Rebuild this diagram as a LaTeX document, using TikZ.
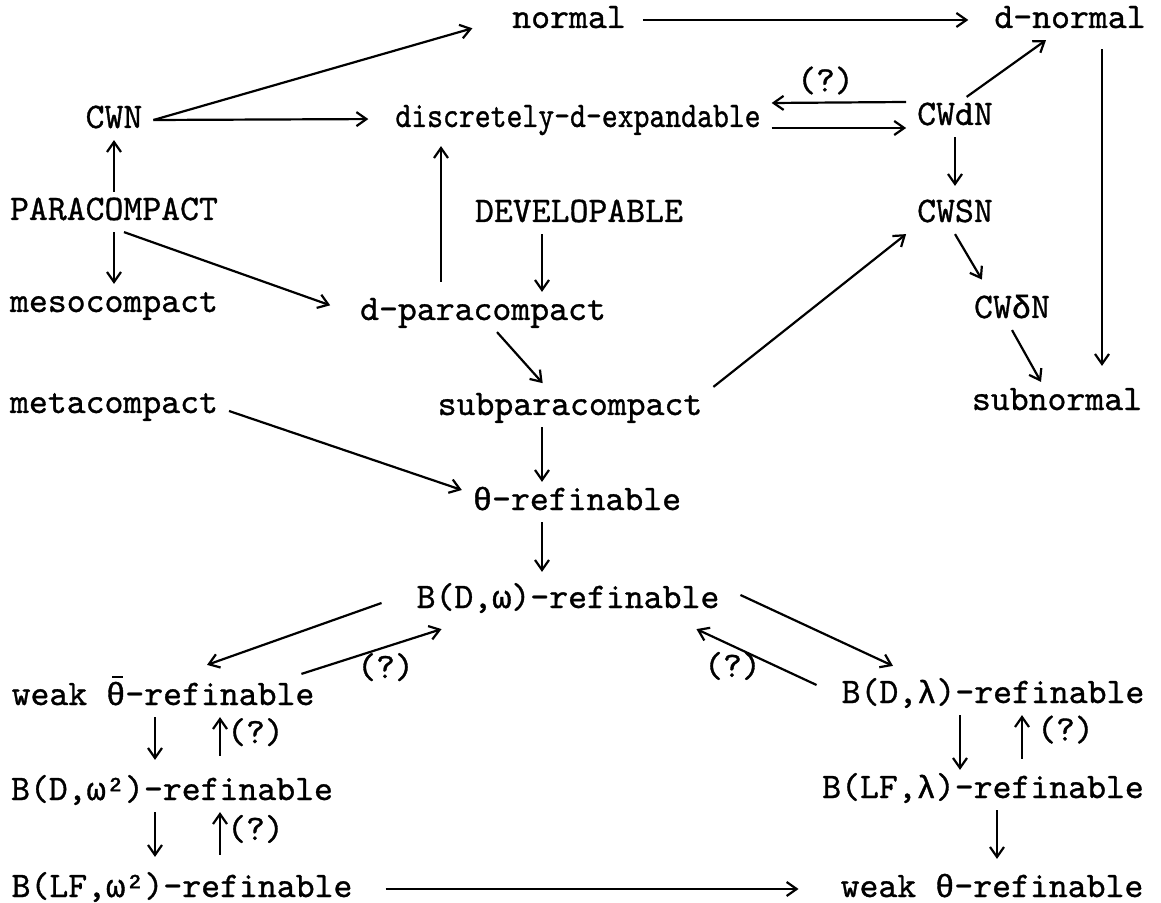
\documentclass[tikz,border=0pt]{standalone}
\usepackage{fontspec}
\setmonofont[FakeBold=0.9]{lmmono10-regular.otf}
\newfontfamily\narrowtt[FakeStretch=0.84,FakeBold=0.9]{lmmono10-regular.otf}
\newfontfamily\grk[FakeBold=1.2]{Liberation Mono}
\usetikzlibrary{arrows.meta}
\newcommand{\gom}{{\grk\fontsize{16}{18}\selectfont ω}}
\newcommand{\gomsq}{{\grk\fontsize{16}{18}\selectfont ω²}}
\newcommand{\glam}{{\grk\fontsize{16}{18}\selectfont λ}}
\newcommand{\gth}{{\grk\fontsize{16}{18}\selectfont θ}}
\newcommand{\gdel}{{\grk\fontsize{16}{18}\selectfont δ}}
\newcommand{\gthbar}{\makebox[0pt][l]{\hspace{0.17em}\rule[0.74em]{0.3em}{0.07em}}\gth}

\begin{document}
\begin{tikzpicture}[x=0.5pt, y=-0.5pt, line width=1.1pt,
    >={Straight Barb[length=5pt,width=7pt]},
    prop/.style={font=\ttfamily\fontsize{18}{20}\selectfont, text height=11pt, text depth=3pt, inner xsep=5pt, inner ysep=2.5pt},
    qm/.style={prop, inner sep=2pt}]
    \useasboundingbox (0,0) rectangle (1161,903);
    % spaces
    \node[prop] (normal) at (569,20) {normal};
    \node[prop] (dnormal) at (1070,20) {d-normal};
    \node[prop] (cwn) at (114,120) {CWN};
    \node[prop, font=\narrowtt\fontsize{18}{20}\selectfont] (dexp) at (578,119) {discretely-d-expandable};
    \node[prop] (cwdn) at (955,117) {CWdN};
    \node[prop] (para) at (114,212) {PARACOMPACT};
    \node[prop] (devel) at (579,214) {DEVELOPABLE};
    \node[prop] (cwsn) at (955,214) {CWSN};
    \node[prop] (meso) at (114,304) {mesocompact};
    \node[prop] (dpara) at (483,312) {d-paracompact};
    \node[prop] (cwdeltan) at (1012,310) {CW\gdel N};
    \node[prop] (meta) at (114,405) {metacompact};
    \node[prop] (subpara) at (570,407) {subparacompact};
    \node[prop] (subnormal) at (1057,402) {subnormal};
    \node[prop] (theta) at (577,502) {\gth-refinable};
    \node[prop] (bdw) at (568,600) {B(D,\gom)-refinable};
    \node[prop] (wtbar) at (163,697) {weak \gthbar-refinable};
    \node[prop] (bdl) at (993,695) {B(D,\glam)-refinable};
    \node[prop] (bdw2) at (172,792) {B(D,\gomsq)-refinable};
    \node[prop] (blfl) at (983,790) {B(LF,\glam)-refinable};
    \node[prop] (blfw2) at (182,889) {B(LF,\gomsq)-refinable};
    \node[prop] (wtheta) at (992,889) {weak \gth-refinable};
    % upper part
    \draw[->, shorten >=15pt] (cwn.east) -- (normal.west);
    \draw[->, shorten >=8pt] (cwn.east) -- (dexp.west);
    \draw[->, shorten <=3pt, shorten >=7.5pt] (normal.east) -- (dnormal.west);
    \draw[->] (cwdn.60) -- ([xshift=-12pt]dnormal.south);
    \draw[->] ([yshift=7.5pt]cwdn.west) -- ([yshift=8pt]dexp.east) node[qm, pos=0.6, above] {(?)};
    \draw[->] ([yshift=-4.5pt]dexp.east) -- ([yshift=-5.5pt]cwdn.west);
    \draw[->, shorten <=4.5pt, shorten >=8pt] ([xshift=16pt]dnormal.south) -- ([xshift=22.5pt]subnormal.north);
    \draw[->, shorten >=4pt] (cwdn.south) -- (cwsn.north);
    \draw[->, shorten >=6pt] (cwsn.south) -- ([xshift=-12pt]cwdeltan.north);
    \draw[->] (cwdeltan.south) -- ([xshift=-8pt]subnormal.north);
    \draw[->] (para.north) -- (cwn.south);
    \draw[->] (para.south) -- (meso.north);
    \draw[->, shorten >=10pt] ([xshift=5pt]para.south) -- (dpara.west);
    \draw[->, shorten <=5pt, shorten >=3.5pt] ([xshift=-21pt]dpara.north) -- ([xshift=-68.5pt]dexp.south);
    \draw[->] ([xshift=-18.5pt]devel.south) -- ([xshift=29.5pt]dpara.north);
    \draw[->, shorten >=2.5pt] ([xshift=7pt]dpara.south) -- ([xshift=-12pt]subpara.north);
    \draw[->] (subpara.north east) -- (cwsn.south west);
    \draw[->] ([yshift=-3pt]meta.east) -- ([yshift=6pt]theta.west);
    \draw[->] ([xshift=-14pt]subpara.south) -- ([xshift=-17.5pt]theta.north);
    \draw[->, shorten >=4pt] ([xshift=-17.5pt]theta.south) -- ([xshift=-13pt]bdw.north);
    % lower part
    \draw[->] ([xshift=-12pt,yshift=-1.5pt]bdw.west) -- ([xshift=22pt,yshift=6pt]wtbar.north);
    \draw[->] ([xshift=-12pt,yshift=1.5pt]wtbar.north east) -- ([xshift=18pt,yshift=-4.5pt]bdw.south west) node[qm, pos=0.6, below=2pt] {(?)};
    \draw[->] ([xshift=5pt,yshift=2.5pt]bdw.east) -- ([xshift=-50pt,yshift=4.5pt]bdl.north);
    \draw[->] ([xshift=-7pt,yshift=5pt]bdl.west) -- ([xshift=-17pt,yshift=-4.5pt]bdw.south east) node[qm, pos=0.7, below=2pt] {(?)};
    \draw[->, shorten >=6pt] ([xshift=-4pt]wtbar.south) -- ([xshift=-8.5pt]bdw2.north);
    \draw[->, shorten <=8pt] ([xshift=24pt]bdw2.north) -- ([xshift=28.5pt]wtbar.south) node[qm, pos=0.67, right=1pt] {(?)};
    \draw[->, shorten >=6pt] ([xshift=-8.5pt]bdw2.south) -- ([xshift=-13.5pt]blfw2.north);
    \draw[->, shorten <=7pt] ([xshift=19pt]blfw2.north) -- ([xshift=24pt]bdw2.south) node[qm, pos=0.65, right=1pt] {(?)};
    \draw[->, shorten <=11pt, shorten >=15.5pt] (blfw2.east) -- (wtheta.west);
    \draw[->] ([xshift=-16.5pt]bdl.south) -- ([xshift=-11.5pt]blfl.north);
    \draw[->, shorten <=5.5pt] ([xshift=19.5pt]blfl.north) -- ([xshift=14.5pt]bdl.south) node[qm, pos=0.68, right=5pt] {(?)};
    \draw[->, shorten >=5pt] ([xshift=7pt]blfl.south) -- ([xshift=2.5pt]wtheta.north);
\end{tikzpicture}
\end{document}
